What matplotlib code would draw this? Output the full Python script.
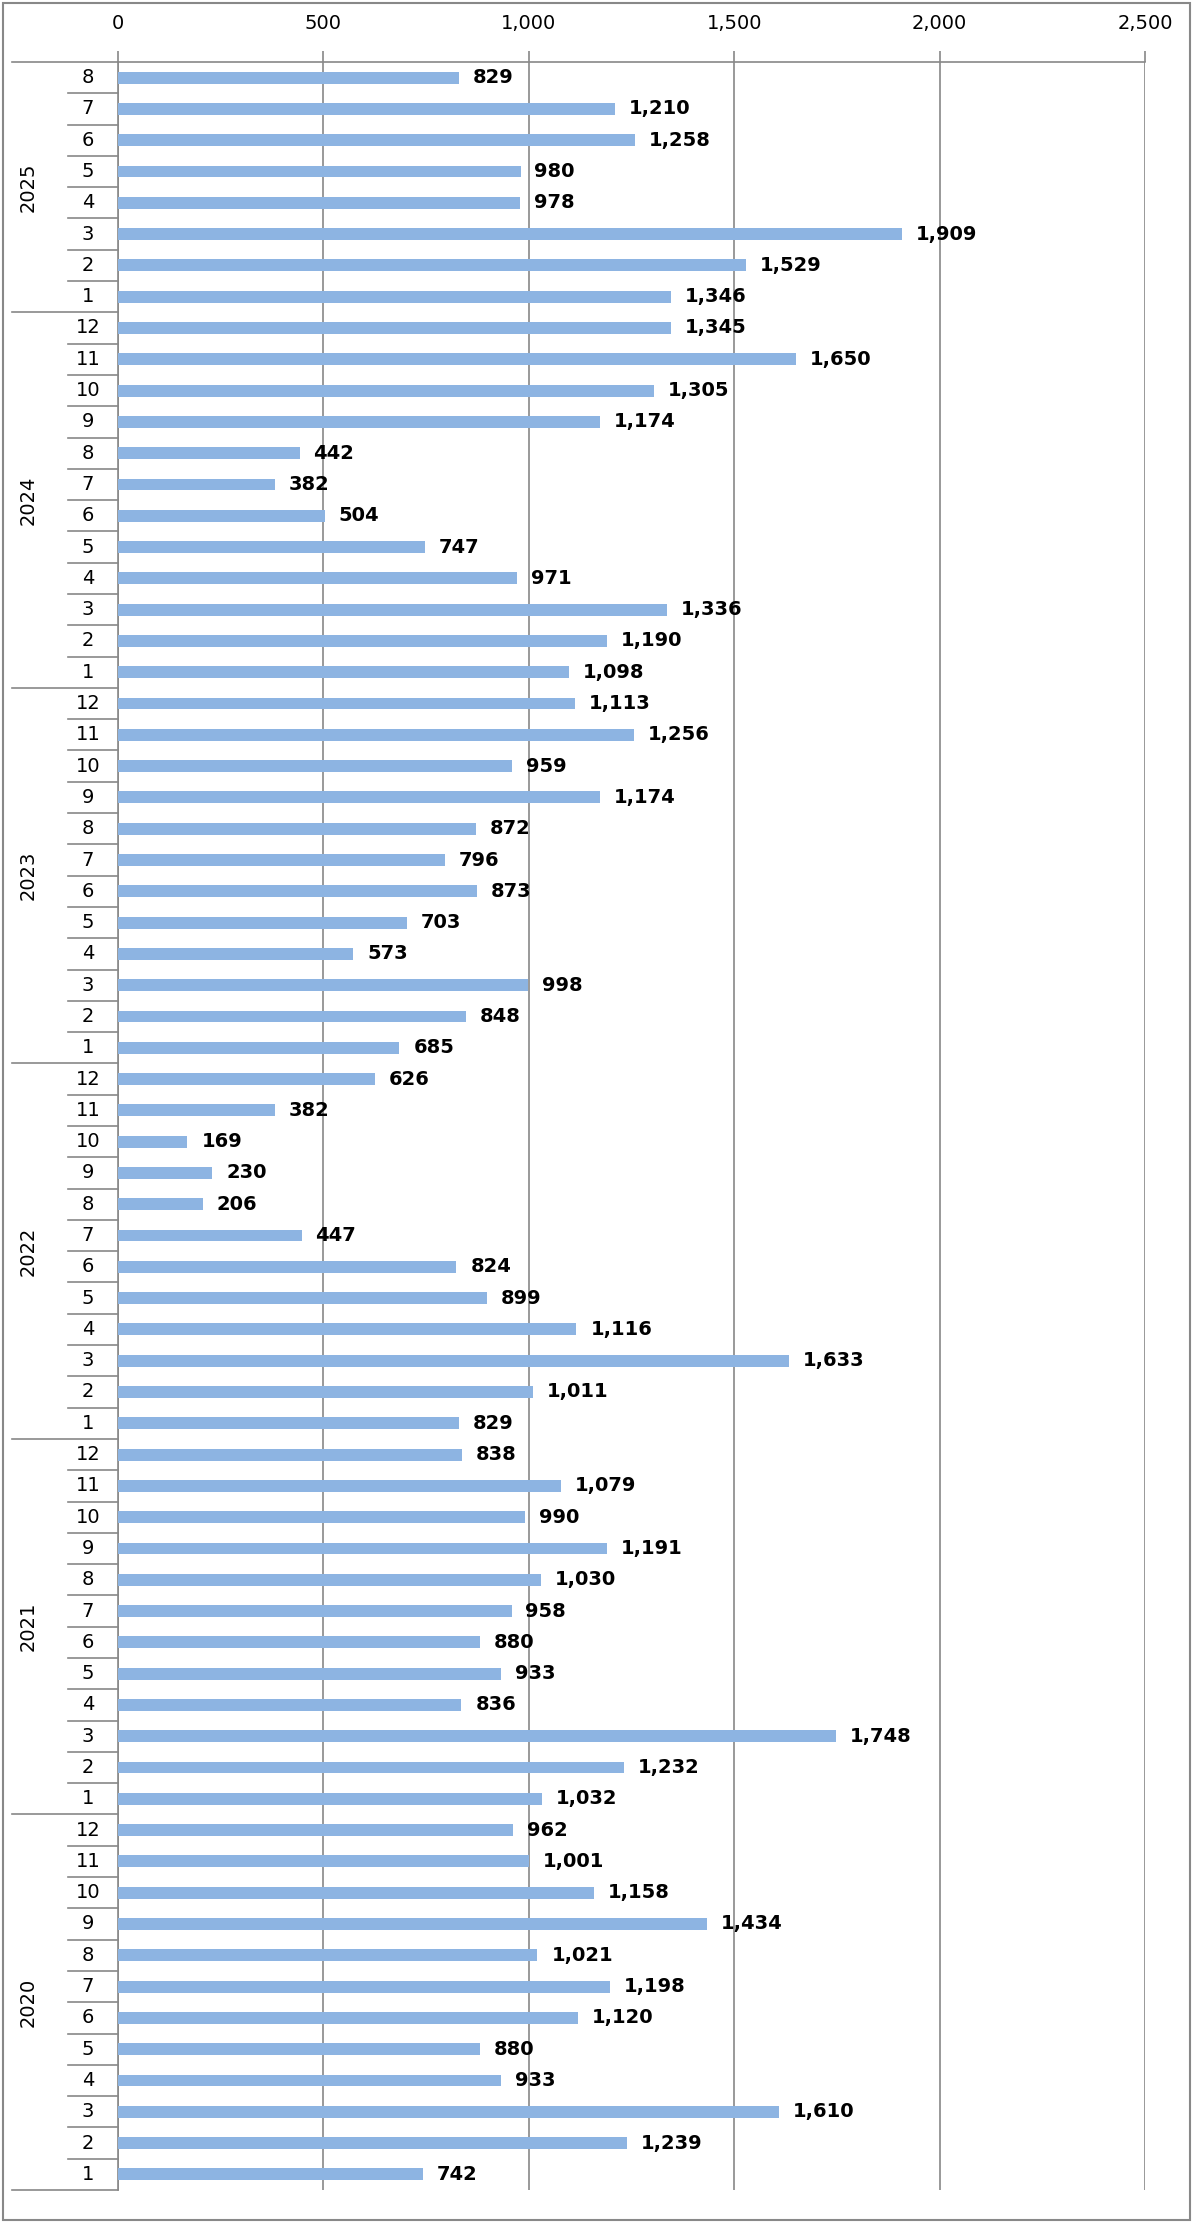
import numpy as np
import matplotlib
matplotlib.use("Agg")
import matplotlib.pyplot as plt
from matplotlib.patches import Rectangle
import matplotlib.transforms as mtransforms

# monthly values, listed top to bottom (latest month first)
years = ["2025", "2024", "2023", "2022", "2021", "2020"]
months_2025 = [8, 7, 6, 5, 4, 3, 2, 1]
values_2025 = [829, 1210, 1258, 980, 978, 1909, 1529, 1346]
months_full = [12, 11, 10, 9, 8, 7, 6, 5, 4, 3, 2, 1]
values_2024 = [1345, 1650, 1305, 1174, 442, 382, 504, 747, 971, 1336, 1190, 1098]
values_2023 = [1113, 1256, 959, 1174, 872, 796, 873, 703, 573, 998, 848, 685]
values_2022 = [626, 382, 169, 230, 206, 447, 824, 899, 1116, 1633, 1011, 829]
values_2021 = [838, 1079, 990, 1191, 1030, 958, 880, 933, 836, 1748, 1232, 1032]
values_2020 = [962, 1001, 1158, 1434, 1021, 1198, 1120, 880, 933, 1610, 1239, 742]

year_months = [months_2025] + [months_full] * 5
year_values = [values_2025, values_2024, values_2023, values_2022, values_2021, values_2020]

values = [v for vals in year_values for v in vals]
month_labels = [m for ms in year_months for m in ms]
n = len(values)

bar_color = "#8DB4E2"
line_color = "#888888"
fs = 14

fig = plt.figure(figsize=(12, 22.22), dpi=100)
ax = fig.add_axes([118 / 1200, 1 - 2190 / 2222, 1027 / 1200, (2190 - 62) / 2222])

y = np.arange(n)
ax.barh(y, values, height=0.38, color=bar_color, zorder=3)
ax.set_ylim(n - 0.5, -0.5)
ax.set_xlim(0, 2500)

# data labels
for yi, v in zip(y, values):
    ax.annotate(f"{v:,}", (v, yi), xytext=(10, 0), textcoords="offset points",
                ha="left", va="center", fontsize=fs, fontweight="bold", color="black",
                zorder=4)

# top x axis with vertical gridlines
ax.xaxis.tick_top()
ax.set_xticks(np.arange(0, 2501, 500))
ax.set_xticklabels([f"{t:,}" for t in range(0, 2501, 500)])
ax.tick_params(axis="x", direction="out", length=8, width=1.2, color=line_color,
               labelsize=fs, pad=13)
ax.grid(axis="x", color=line_color, linewidth=1.2, zorder=0)
ax.set_yticks([])
for side in ["right", "bottom"]:
    ax.spines[side].set_visible(False)
for side in ["top", "left"]:
    ax.spines[side].set_color(line_color)
    ax.spines[side].set_linewidth(1.2)

# two-level category axis drawn by hand
trans = mtransforms.blended_transform_factory(ax.transAxes, ax.transData)
x_month = -50 / 1027
x_year = -106 / 1027
start = 0
for yr, ms in zip(years, year_months):
    for k, m in enumerate(ms):
        idx = start + k
        ax.text(-30 / 1027, idx, str(m), transform=trans, ha="center", va="center",
                fontsize=fs)
        if k > 0:
            ax.plot([x_month, 0], [idx - 0.5, idx - 0.5], transform=trans,
                    color=line_color, lw=1.2, clip_on=False)
    ax.plot([x_year, 0], [start - 0.5, start - 0.5], transform=trans,
            color=line_color, lw=1.2, clip_on=False)
    mid = start + (len(ms) - 1) / 2
    ax.text(-90 / 1027, mid, yr, transform=trans, ha="center", va="center",
            rotation=90, fontsize=fs)
    start += len(ms)
ax.plot([x_year, 0], [n - 0.5, n - 0.5], transform=trans,
        color=line_color, lw=1.2, clip_on=False)

# outer chart border
fig.patches.append(Rectangle((3 / 1200, 2 / 2222), 1187 / 1200, 2217 / 2222,
                             transform=fig.transFigure, fill=False,
                             edgecolor=line_color, lw=1.5))

fig.savefig("out.png", dpi=100)
